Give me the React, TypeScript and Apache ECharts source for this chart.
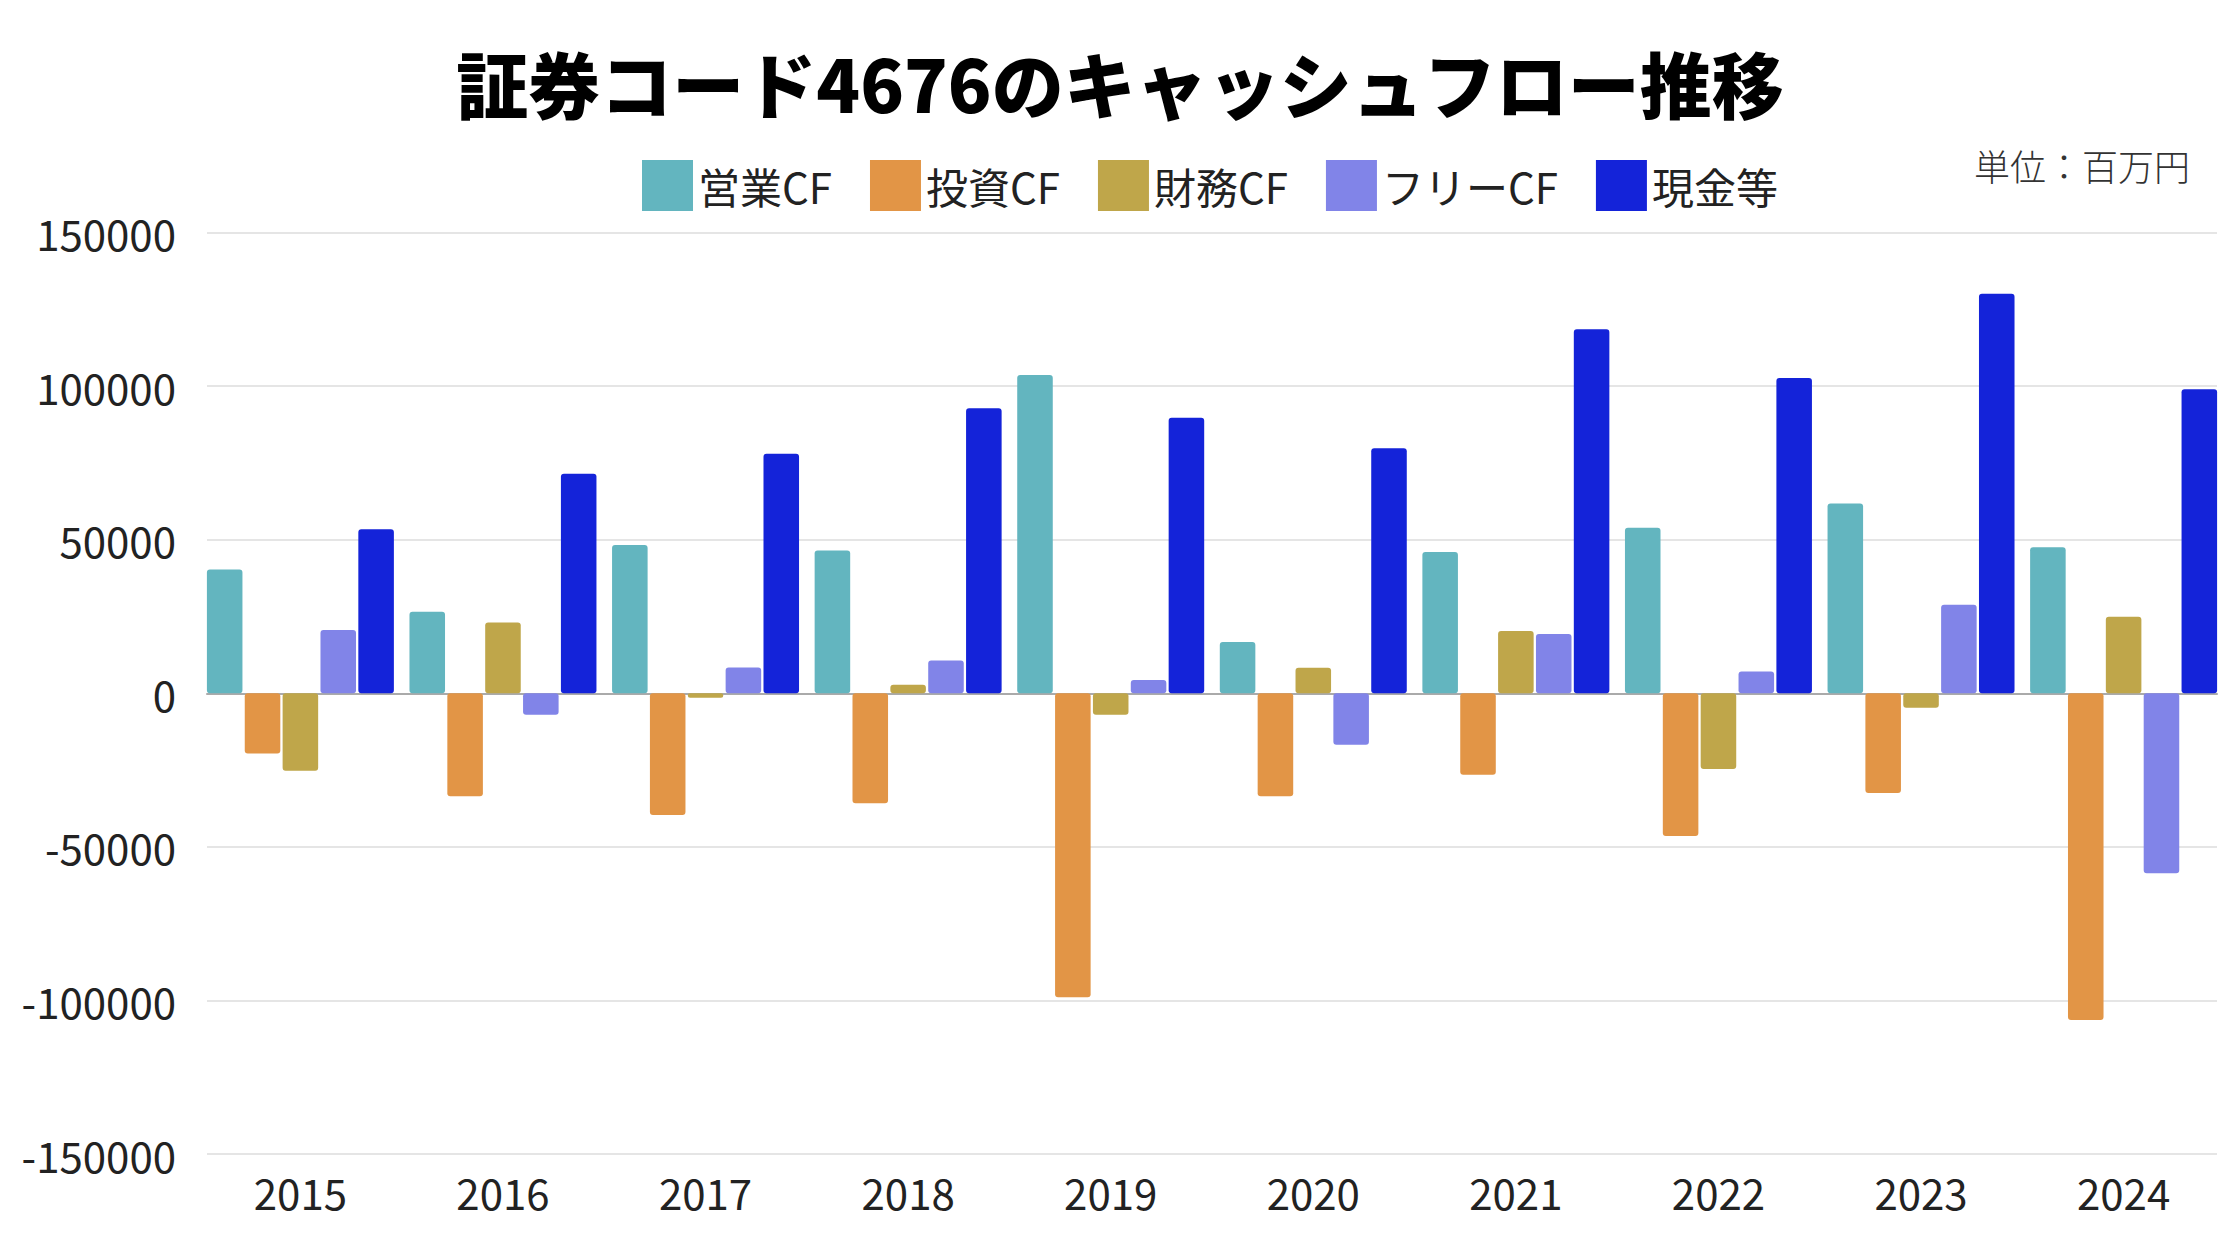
import React, { useEffect, useRef } from "react";
import * as echarts from "echarts";

const years = ["2015", "2016", "2017", "2018", "2019", "2020", "2021", "2022", "2023", "2024"];
const operatingCF = [40300, 26500, 48300, 46500, 103600, 16700, 46000, 53900, 61800, 47500];
const investingCF = [-19600, -33500, -39600, -35800, -99000, -33500, -26500, -46500, -32500, -106400];
const financingCF = [-25200, 23000, -1500, 2800, -7000, 8300, 20300, -24700, -4700, 24900];
const freeCF = [20600, -7000, 8400, 10700, 4300, -16800, 19300, 7100, 28800, -58600];
const cashEq = [53400, 71500, 78000, 92800, 89700, 79800, 118500, 102600, 130100, 99000];

const seriesNames = ["営業CF", "投資CF", "財務CF", "フリーCF", "現金等"];
const seriesColors = ["#63b5bf", "#e29546", "#bfa64a", "#8184e8", "#1423d9"];
const seriesData = [operatingCF, investingCF, financingCF, freeCF, cashEq];

const FONT = '"Noto Sans CJK JP", "Noto Sans", sans-serif';

export default function App() {
  const ref = useRef<HTMLDivElement>(null);

  useEffect(() => {
    if (!ref.current) return;
    const chart = echarts.init(ref.current, null, { renderer: "svg" });
    const W = 2240;
    const H = 1260;
    const plotLeft = 207;
    const plotRight = 2217;
    const plotTop = 232.5;
    const plotBottom = 1154;
    const half = 7.9;

    const option: any = {
      animation: false,
      backgroundColor: "#ffffff",
      textStyle: { fontFamily: FONT },
      title: {
        text: "証券コード4676のキャッシュフロー推移",
        left: "center",
        top: 40,
        textStyle: {
          fontFamily: FONT,
          fontSize: 72,
          fontWeight: 900,
          color: "#000000",
        },
      },
      legend: {
        left: 637,
        top: 155,
        icon: "rect",
        itemWidth: 51,
        itemHeight: 51,
        itemGap: 38,
        data: seriesNames,
        textStyle: {
          fontFamily: FONT,
          fontSize: 42,
          color: "#222222",
        },
      },
      graphic: [
        {
          type: "text",
          right: 50,
          top: 147,
          style: {
            text: "単位：百万円",
            font: `300 36px ${FONT}`,
            fill: "#333333",
          },
        },
      ],
      grid: [
        {
          left: plotLeft,
          right: W - plotRight,
          top: plotTop,
          bottom: H - plotBottom,
        },
        {
          left: plotLeft - half,
          right: W - plotRight - half,
          top: plotTop,
          bottom: H - plotBottom,
        },
      ],
      xAxis: [
        {
          type: "category",
          gridIndex: 0,
          data: years,
          axisLine: { show: true, onZero: true, lineStyle: { color: "#aaaaaa", width: 2 } },
          axisTick: { show: false },
          axisLabel: { show: false },
          splitLine: { show: false },
        },
        {
          type: "category",
          gridIndex: 1,
          data: years,
          axisLine: { show: false, onZero: false },
          axisTick: { show: false },
          axisLabel: {
            show: true,
            margin: 16,
            fontFamily: FONT,
            fontSize: 42,
            color: "#222222",
          },
          splitLine: { show: false },
        },
      ],
      yAxis: [
        {
          type: "value",
          gridIndex: 0,
          min: -150000,
          max: 150000,
          interval: 50000,
          axisLine: { show: false },
          axisTick: { show: false },
          axisLabel: {
            margin: 31,
            fontFamily: FONT,
            fontSize: 42,
            color: "#222222",
            formatter: (v: number) => String(v),
          },
          splitLine: { show: true, lineStyle: { color: "#dddddd", width: 1.5 } },
        },
        {
          type: "value",
          gridIndex: 1,
          min: -150000,
          max: 150000,
          interval: 50000,
          axisLine: { show: false },
          axisTick: { show: false },
          axisLabel: { show: false },
          splitLine: { show: false },
        },
      ],
      series: seriesNames.map((name, i) => ({
        name,
        type: "bar",
        xAxisIndex: 1,
        yAxisIndex: 1,
        data: seriesData[i],
        barGap: "6.5%",
        barCategoryGap: "7.7%",
        itemStyle: { color: seriesColors[i], borderRadius: 3 },
        emphasis: { disabled: true },
      })),
    };

    chart.setOption(option);
    return () => {
      chart.dispose();
    };
  }, []);

  return (
    <div
      ref={ref}
      style={{ position: "fixed", left: 0, top: 0, width: 2240, height: 1260, background: "#ffffff" }}
    />
  );
}
